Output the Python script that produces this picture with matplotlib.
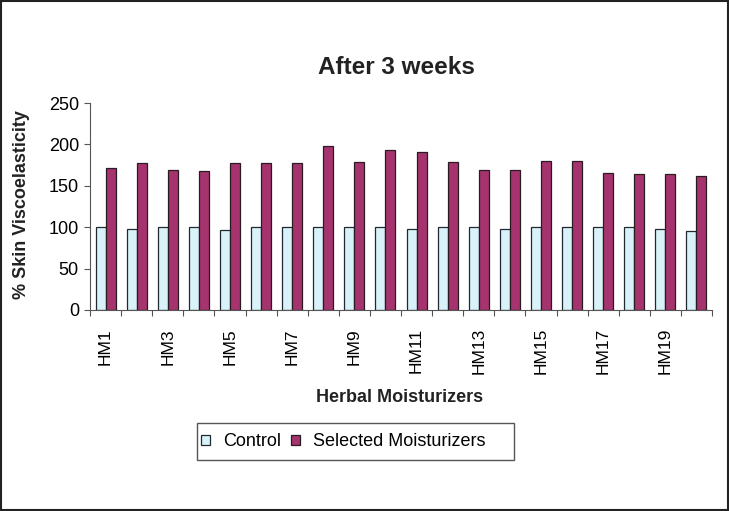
import numpy as np
import matplotlib
matplotlib.use('Agg')
import matplotlib.pyplot as plt
from matplotlib.patches import Rectangle

plt.rcParams['font.family'] = ['Liberation Sans', 'DejaVu Sans']

# data
names = ['HM%d' % i for i in range(1, 21)]
control = [100, 98, 100, 100, 97, 100, 100, 100, 100, 100,
           98, 100, 100, 98, 100, 100, 100, 100, 98, 95]
selected = [171, 177, 169, 168, 177, 177, 177, 198, 179, 193,
            191, 179, 169, 169, 180, 180, 166, 164, 164, 162]

fig = plt.figure(figsize=(7.29, 5.11), dpi=100)
ax = fig.add_axes([90/729, 1-310/511, (712-90)/729, (310-103)/511])

x = np.arange(len(names))
w = 0.32
b1 = ax.bar(x - w/2, control, w, color='#d9f1f8', edgecolor='#1f2a30', linewidth=0.9, label='Control')
b2 = ax.bar(x + w/2, selected, w, color='#a5346e', edgecolor='#2a1a22', linewidth=0.9, label='Selected Moisturizers')

ax.set_xlim(-0.5, len(names) - 0.5)
ax.set_ylim(0, 250)
ax.set_yticks(np.arange(0, 251, 50))
ax.tick_params(axis='y', labelsize=13, length=4, color='#555555', pad=4)

# ticks at category boundaries, labels on every other category
ax.set_xticks(np.arange(-0.5, len(names)))
ax.set_xticklabels([])
ax.tick_params(axis='x', which='major', length=4, color='#555555')
ax.set_xticks(x[::2], minor=True)
ax.set_xticklabels(names[::2], minor=True, rotation=90, fontsize=12.5)
ax.tick_params(axis='x', which='minor', length=0, pad=13)

for s in ['top', 'right']:
    ax.spines[s].set_visible(False)
ax.spines['left'].set_color('#555555')
ax.spines['bottom'].set_color('#555555')

fig.text(396/729, 1-68/511, 'After 3 weeks', fontsize=17.5, fontweight='bold',
         ha='center', va='center', color='#222222')
fig.text(22/729, 1-205/511, '% Skin Viscoelasticity', fontsize=13, fontweight='bold',
         rotation=90, ha='center', va='center', color='#222222')
fig.text(400/729, 1-398/511, 'Herbal Moisturizers', fontsize=13, fontweight='bold',
         ha='center', va='center', color='#222222')

leg = fig.legend(handles=[b1, b2], loc='center left', bbox_to_anchor=(201/729, 1-442/511),
                 ncol=2, fontsize=13, frameon=False, borderpad=0, borderaxespad=0,
                 handlelength=0.5, handleheight=0.5, handletextpad=0.75, columnspacing=0.5)
fig.patches.append(Rectangle((197/729, 1-460/511), (514-197)/729, 37/511, transform=fig.transFigure,
                             fill=False, edgecolor='#555555', linewidth=1.0))

fig.patches.append(Rectangle((0.001, 0.002), 0.997, 0.996, transform=fig.transFigure,
                             fill=False, edgecolor='#222222', linewidth=1.5))

fig.savefig('out.png', dpi=100)
